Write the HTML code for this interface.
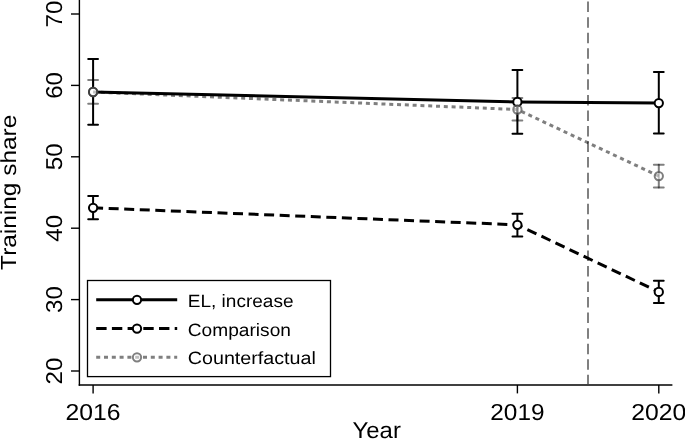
<!DOCTYPE html>
<html><head><meta charset="utf-8">
<style>
html,body{margin:0;padding:0;background:#fff;width:685px;height:439px;overflow:hidden;}
svg{display:block;filter:grayscale(1);text-rendering:geometricPrecision;}
text{font-family:"Liberation Sans",sans-serif;fill:#000;}
</style></head>
<body>
<svg width="685" height="439" viewBox="0 0 685 439">
<rect x="0" y="0" width="685" height="439" fill="#fff"/>

<!-- axes -->
<g stroke="#000" stroke-width="1.4" fill="none">
  <line x1="79.4" y1="0" x2="79.4" y2="385.8"/>
  <line x1="78.7" y1="385" x2="672.4" y2="385" stroke-width="1.6"/>
  <!-- y ticks -->
  <line x1="71" y1="14" x2="79.4" y2="14"/>
  <line x1="71" y1="85.4" x2="79.4" y2="85.4"/>
  <line x1="71" y1="156.8" x2="79.4" y2="156.8"/>
  <line x1="71" y1="228.2" x2="79.4" y2="228.2"/>
  <line x1="71" y1="299.6" x2="79.4" y2="299.6"/>
  <line x1="71" y1="371" x2="79.4" y2="371"/>
  <!-- x ticks -->
  <line x1="93.1" y1="385" x2="93.1" y2="393.4"/>
  <line x1="517.4" y1="385" x2="517.4" y2="393.4"/>
  <line x1="658.8" y1="385" x2="658.8" y2="393.4"/>
</g>

<!-- y tick labels -->
<g font-size="23" text-anchor="middle">
  <text transform="translate(62.1,14) rotate(-90) scale(1.05,1)">70</text>
  <text transform="translate(62.1,85.4) rotate(-90) scale(1.05,1)">60</text>
  <text transform="translate(62.1,156.8) rotate(-90) scale(1.05,1)">50</text>
  <text transform="translate(62.1,228.2) rotate(-90) scale(1.05,1)">40</text>
  <text transform="translate(62.1,299.6) rotate(-90) scale(1.05,1)">30</text>
  <text transform="translate(62.1,371) rotate(-90) scale(1.05,1)">20</text>
</g>
<!-- x tick labels -->
<g font-size="23" text-anchor="middle">
  <text transform="translate(93.1,419.6) scale(1.075,1)">2016</text>
  <text transform="translate(517.4,419.6) scale(1.06,1)">2019</text>
  <text transform="translate(658.8,419.6) scale(1.075,1)">2020</text>
</g>
<!-- axis titles -->
<text transform="translate(376.7,438.3) scale(1.04,1)" font-size="23" text-anchor="middle">Year</text>
<text transform="translate(16.4,192.3) rotate(-90) scale(1.12,1)" font-size="21.8" text-anchor="middle">Training share</text>

<!-- vertical reference line -->
<line x1="588" y1="1.6" x2="588" y2="384" stroke="#808080" stroke-width="2" stroke-dasharray="10.5 5.05"/>

<!-- error bars (all series) -->
<g stroke="#000" stroke-width="2" stroke-linecap="round" fill="none">
  <path d="M93.1 59V124.8M88.2 59H98M88.2 124.8H98"/>
  <path d="M517.4 70V133.8M512.5 70H522.3M512.5 133.8H522.3"/>
  <path d="M658.8 72V133.6M653.9 72H663.7M653.9 133.6H663.7"/>
  <path d="M93.1 196.1V219.2M88.2 196.1H98M88.2 219.2H98"/>
  <path d="M517.4 213.7V236.5M512.5 213.7H522.3M512.5 236.5H522.3"/>
  <path d="M658.8 280.7V303M653.9 280.7H663.7M653.9 303H663.7"/>
</g>
<g stroke="rgba(0,0,0,0.5)" stroke-width="2" stroke-linecap="round" fill="none">
  <path d="M93.1 80.1V103.8"/><path d="M88.2 80.1H98"/><path d="M88.2 103.8H98"/>
  <path d="M517.4 98V120.5"/><path d="M512.5 98H522.3"/><path d="M512.5 120.5H522.3"/>
  <path d="M658.8 164.8V187.4"/><path d="M653.9 164.8H663.7"/><path d="M653.9 187.4H663.7"/>
</g>

<!-- EL increase -->
<polyline points="93.1,92 517.4,102 658.8,103.1" fill="none" stroke="#000" stroke-width="3"/>
<g fill="#fff" stroke="#000" stroke-width="2">
  <circle cx="93.1" cy="92" r="4.15"/>
  <circle cx="517.4" cy="102" r="4.15"/>
  <circle cx="658.8" cy="103.1" r="4.15"/>
</g>
<!-- Comparison -->
<polyline points="93.1,207.8 517.4,224.8 658.8,291.9" fill="none" stroke="#000" stroke-width="3" stroke-dasharray="10 5.56"/>
<g fill="#fff" stroke="#000" stroke-width="2">
  <circle cx="93.1" cy="207.8" r="4.15"/>
  <circle cx="517.4" cy="224.8" r="4.15"/>
  <circle cx="658.8" cy="291.9" r="4.15"/>
</g>
<!-- Counterfactual (50% black) -->
<polyline points="93.1,92 517.4,109.5 658.8,176.1" fill="none" stroke="rgba(0,0,0,0.5)" stroke-width="3" stroke-dasharray="4 3.8"/>
<g fill="rgba(255,255,255,0.5)">
  <circle cx="93.1" cy="92" r="5.15"/>
  <circle cx="517.4" cy="109.5" r="5.15"/>
  <circle cx="658.8" cy="176.1" r="5.15"/>
</g>
<g fill="none" stroke="rgba(0,0,0,0.5)" stroke-width="2">
  <circle cx="93.1" cy="92" r="4.15"/>
  <circle cx="517.4" cy="109.5" r="4.15"/>
  <circle cx="658.8" cy="176.1" r="4.15"/>
</g>

<!-- legend -->
<rect x="87.5" y="280.5" width="243" height="96.1" fill="#fff" stroke="#000" stroke-width="1.3"/>
<line x1="96.2" y1="299.8" x2="177.2" y2="299.8" stroke="#000" stroke-width="3"/>
<line x1="96.2" y1="328.6" x2="177.2" y2="328.6" stroke="#000" stroke-width="3" stroke-dasharray="10.4 5.3"/>
<line x1="96.2" y1="357.3" x2="177.2" y2="357.3" stroke="rgba(0,0,0,0.5)" stroke-width="3" stroke-dasharray="4 3.8"/>
<g fill="#fff" stroke-width="2">
  <circle cx="137" cy="299.8" r="4.15" stroke="#000"/>
  <circle cx="137" cy="328.6" r="4.15" stroke="#000"/>
  <circle cx="137" cy="357.3" r="5.15" stroke="none" fill="rgba(255,255,255,0.5)"/>
  <circle cx="137" cy="357.3" r="4.15" stroke="rgba(0,0,0,0.5)" fill="none"/>
</g>
<g font-size="17.8">
  <text transform="translate(187.8,307.1) scale(1.069,1)">EL, increase</text>
  <text transform="translate(187.8,335.8) scale(1.076,1)">Comparison</text>
  <text transform="translate(187.8,364.3) scale(1.107,1)">Counterfactual</text>
</g>
</svg>
</body></html>
